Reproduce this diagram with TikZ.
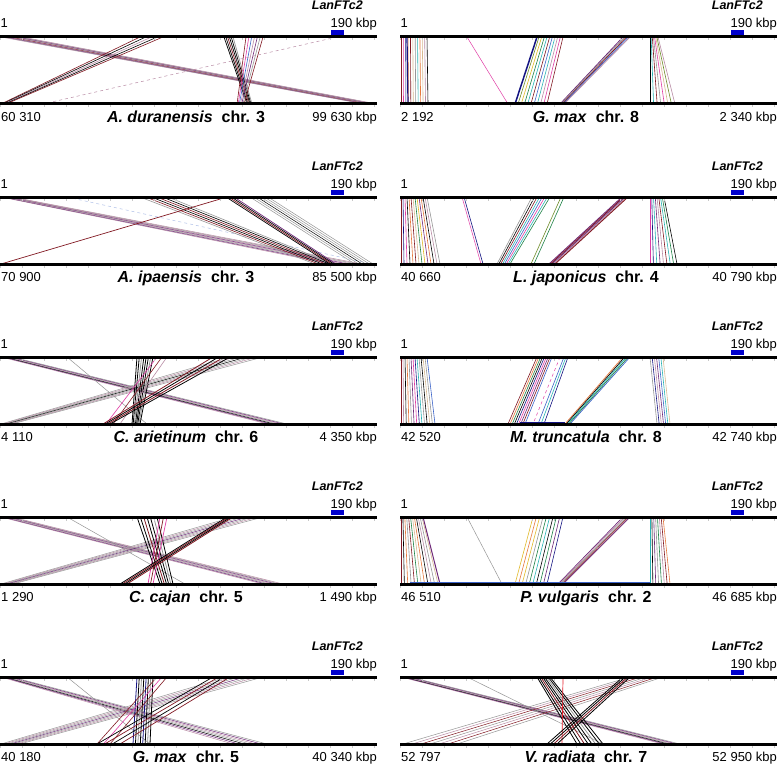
\documentclass[tikz,border=0pt]{standalone}
\usepackage{fontspec}
\setmainfont{Liberation Sans}
\definecolor{cDR}{RGB}{130,25,35}
\definecolor{cPG}{RGB}{185,140,165}
\definecolor{cGL}{RGB}{150,150,150}
\definecolor{cNV}{RGB}{20,20,130}
\definecolor{cMG}{RGB}{225,60,165}
\definecolor{cTL}{RGB}{40,180,180}
\definecolor{cOL}{RGB}{110,140,40}
\definecolor{cYL}{RGB}{225,185,40}
\definecolor{cOR}{RGB}{230,120,60}
\definecolor{cPU}{RGB}{110,40,120}
\definecolor{cGN}{RGB}{30,130,70}
\definecolor{cTN}{RGB}{215,185,145}
\definecolor{cBL}{RGB}{60,100,200}
\definecolor{cRD}{RGB}{230,30,40}
\definecolor{cGB}{RGB}{0,0,205}
\definecolor{cTK}{RGB}{200,200,200}
\tikzset{
  bar/.style={line width=3pt, black},
  tick/.style={cTK, line width=0.5pt},
  numlab/.style={font=\fontsize{13}{14}\selectfont, inner sep=0pt},
  titlab/.style={font=\fontsize{16}{18}\selectfont\bfseries, inner sep=0pt},
  genelab/.style={font=\fontsize{12.5}{14}\selectfont\bfseries\itshape, inner sep=0pt},
  genebox/.style={fill=cGB, draw=none},
}
% bundle: n, top-start, top-end, bottom-start, bottom-end, width, colours
\newcommand\bund[7]{%
  \foreach \bc [count=\bi from 0] in {#7}{%
    \pgfmathsetmacro\bq{(#1>1)?(\bi/(#1-1)):0}%
    \draw[\bc,line width=#6pt] ({#2+\bq*(#3-#2)},0) -- ({#4+\bq*(#5-#4)},67);}}
% frame: name, xoff, yoff, left number, species, chr, right number
\newcommand\pframe[7]{%
  \begin{scope}[shift={(#2,#3)}]
    \foreach \tx in {0,22,...,376}{\draw[tick] (\tx,1.5) -- (\tx,3.5); \draw[tick] (\tx,68.5) -- (\tx,70.5);}
    \coordinate (#1-tl) at (0,0);
    \coordinate (#1-tr) at (377,0);
    \coordinate (#1-bl) at (0,67);
    \coordinate (#1-br) at (377,67);
    \draw[bar] (#1-tl) -- (#1-tr);
    \draw[bar] (#1-bl) -- (#1-br);
    \fill[genebox] (331,-7) rectangle (344,-2.2);
    \node[genelab, anchor=base east] (#1-gene) at (363,-27) {LanFTc2};
    \node[numlab, anchor=base west] (#1-one) at (0.5,-9) {1};
    \node[numlab, anchor=base east] (#1-end) at (377,-9) {190 kbp};
    \node[numlab, anchor=base west] (#1-left) at (1,84.5) {#4};
    \node[numlab, anchor=base east] (#1-right) at (377,84.5) {#7};
    \node[titlab, anchor=base] (#1-title) at (186,85.5) {\textit{#5}\ \ #6};
  \end{scope}}
\begin{document}
\begin{tikzpicture}[x=1pt,y=-1pt]
\useasboundingbox (0,0) rectangle (778,765);
\fill[white] (0,0) rectangle (778,765);

% ---------- Panel 1: A. duranensis ----------
\begin{scope}[shift={(0,37)}]
  \bund{10}{1}{22}{364}{377}{0.5}{cPG,cGL,cPU,cPG,cDR,cGL,cPG,cPU,cGL,cPG}
  \bund{5}{140}{163}{1}{6}{0.6}{cDR,black,cPG,black,cDR}
  \bund{6}{224}{233}{247}{252}{0.7}{black,black,cDR,black,black,cGL}
  \bund{7}{246}{263}{237}{244}{0.6}{cDR,cMG,cBL,cPG,cPU,cGL,cDR}
  \draw[cPG,dashed,line width=0.5pt] (337,0) -- (43,67);
\end{scope}
\pframe{p1}{0}{37}{60 310}{A. duranensis}{chr. 3}{99 630 kbp}

% ---------- Panel 2: G. max chr. 8 ----------
\begin{scope}[shift={(400,37)}]
  \bund{12}{1}{27}{1}{28}{0.6}{cDR,cMG,cNV,cOR,cDR,cTN,cGL,cTL,cOR,cTN,cPG,black}
  \draw[cNV,line width=1.2pt] (7,0) -- (8,67);
  \draw[cMG,line width=0.5pt] (67,0) -- (108,67);
  \bund{10}{139}{163}{118}{147}{0.6}{cOL,cYL,cGN,cTL,cDR,cBL,cTL,cPG,cMG,cDR}
  \draw[cNV,line width=1.5pt] (137,0) -- (115,67);
  \bund{5}{223}{230}{160}{164}{0.8}{cPU,cGL,cDR,cBL,cPG}
  \draw[cNV,line width=1.5pt] (160,65.5) -- (250,65.5);
  \bund{8}{250}{258}{250}{275}{0.6}{black,cTL,cDR,cGL,cMG,cTN,cOL,cPG}
\end{scope}
\pframe{p2}{400}{37}{2 192}{G. max}{chr. 8}{2 340 kbp}

% ---------- Panel 3: A. ipaensis ----------
\begin{scope}[shift={(0,197)}]
  \bund{8}{1}{12}{330}{362}{0.5}{cPG,cPU,cGL,cPG,cPU,cPG,cGL,cPG}
  \draw[cBL!40,dashed,line width=0.5pt] (67,0) -- (372,67);
  \bund{6}{140}{168}{315}{333}{0.6}{cGL,cDR,black,cDR,black,cGL}
  \draw[cDR,line width=0.7pt] (1,67) -- (227,0);
  \bund{4}{226}{234}{330}{336}{0.7}{black,cDR,black,cPU}
  \bund{6}{250}{268}{355}{373}{0.5}{cGL,cGL,black,cGL,cGL,cGL}
\end{scope}
\pframe{p3}{0}{197}{70 900}{A. ipaensis}{chr. 3}{85 500 kbp}

% ---------- Panel 4: L. japonicus ----------
\begin{scope}[shift={(400,197)}]
  \bund{14}{1}{27}{1}{40}{0.6}{cDR,cNV,cMG,black,cOR,cDR,cTN,cGN,cYL,cPU,cOR,black,cPG,cGL}
  \draw[cMG,line width=0.5pt] (62,0) -- (81,67);
  \draw[cNV,line width=0.6pt] (64,0) -- (83,67);
  \bund{8}{132}{150}{97}{110}{0.6}{cGL,black,cDR,cTL,cBL,cMG,cTL,cGN}
  \bund{2}{161}{164}{131}{134}{0.6}{cOL,cGN}
  \bund{5}{222}{228}{149}{155}{0.9}{cPU,cDR,cPU,cPG,cDR}
  \bund{9}{250}{264}{250}{277}{0.6}{cMG,cNV,cTL,cPU,cPG,cDR,cTL,cGN,black}
\end{scope}
\pframe{p4}{400}{197}{40 660}{L. japonicus}{chr. 4}{40 790 kbp}

% ---------- Panel 5: C. arietinum ----------
\begin{scope}[shift={(0,357)}]
  \bund{7}{1}{12}{268}{287}{0.5}{cPG,cPU,black,cGL,cPG,cPU,cGL}
  \draw[cGL,line width=0.5pt] (67,0) -- (147,67);
  \bund{7}{230}{263}{1}{12}{0.5}{cGL,cPG,cGL,black,cGL,cPG,cGL}
  \bund{8}{137}{153}{132}{140}{0.8}{black,black,cGL,black,black,black,cGL,black}
  \bund{3}{157}{167}{106}{120}{0.6}{cMG,cDR,cPG}
  \bund{4}{213}{230}{103}{110}{0.8}{cDR,black,cDR,black}
\end{scope}
\pframe{p5}{0}{357}{4 110}{C. arietinum}{chr. 6}{4 350 kbp}

% ---------- Panel 6: M. truncatula ----------
\begin{scope}[shift={(400,357)}]
  \bund{14}{1}{27}{1}{35}{0.6}{cDR,cPG,black,cOR,cGL,cPU,cMG,cNV,cTL,cGL,black,cTN,cGL,cBL}
  \bund{9}{137}{152}{108}{125}{0.6}{cDR,cOR,cGN,black,cNV,cMG,cPU,cDR,cBL}
  \draw[cMG,dashed,line width=0.5pt] (160,0) -- (133,67);
  \bund{3}{164}{168}{138}{144}{0.6}{cBL,cTL,cNV}
  \draw[cNV,line width=1.2pt] (120,65.5) -- (165,65.5);
  \bund{5}{223}{230}{165}{170}{0.7}{cOR,black,cTL,cGN,cBL}
  \bund{7}{250}{263}{257}{270}{0.6}{cGL,cNV,cPG,cPU,cBL,cTL,cTN}
\end{scope}
\pframe{p6}{400}{357}{42 520}{M. truncatula}{chr. 8}{42 740 kbp}

% ---------- Panel 7: C. cajan ----------
\begin{scope}[shift={(0,517)}]
  \bund{7}{1}{12}{263}{283}{0.5}{cPG,cPU,cGL,cPG,cPU,cGL,cPG}
  \draw[cGL,line width=0.5pt] (67,0) -- (185,67);
  \bund{7}{233}{263}{1}{13}{0.5}{cGL,cPG,cGL,cPU,cGL,cPG,cGL}
  \bund{7}{137}{157}{160}{173}{0.8}{black,black,cDR,black,black,cGL,black}
  \bund{3}{160}{167}{148}{153}{0.7}{cMG,cDR,cMG}
  \bund{4}{227}{233}{120}{127}{0.8}{black,cDR,black,cDR}
\end{scope}
\pframe{p7}{0}{517}{1 290}{C. cajan}{chr. 5}{1 490 kbp}

% ---------- Panel 8: P. vulgaris ----------
\begin{scope}[shift={(400,517)}]
  \bund{12}{1}{22}{1}{38}{0.6}{cDR,black,cOR,cGL,cDR,cGN,cTN,cOR,black,cPG,cGL,cTN}
  \draw[cPU,line width=1pt] (23,0) -- (40,67);
  \draw[cGL,line width=0.5pt] (67,0) -- (102,67);
  \bund{10}{133}{163}{115}{147}{0.6}{cYL,cOR,cYL,cGL,cGN,cTL,black,cGN,cPU,cNV}
  \bund{5}{223}{230}{158}{163}{0.7}{cPU,cPG,cGL,cDR,cPU}
  \bund{8}{250}{263}{250}{270}{0.6}{cTL,black,cPU,cGL,cGN,cPG,cDR,cOR}
  \draw[cBL,line width=0.6pt] (10,65.5) -- (250,65.5);
\end{scope}
\pframe{p8}{400}{517}{46 510}{P. vulgaris}{chr. 2}{46 685 kbp}

% ---------- Panel 9: G. max chr. 5 ----------
\begin{scope}[shift={(0,677)}]
  \bund{7}{1}{12}{233}{267}{0.5}{cPG,cPU,black,cGL,cPG,cPU,cGL}
  \draw[cGL,line width=0.5pt] (67,0) -- (150,67);
  \bund{7}{227}{263}{1}{20}{0.5}{cGL,cPG,cGL,cPU,cGL,cPG,cGL}
  \bund{8}{137}{153}{133}{150}{0.8}{cNV,black,cGL,black,cNV,black,cGL,black}
  \bund{3}{157}{167}{97}{110}{0.6}{cDR,cMG,cDR}
  \bund{4}{213}{230}{97}{120}{0.7}{black,cDR,black,cDR}
\end{scope}
\pframe{p9}{0}{677}{40 180}{G. max}{chr. 5}{40 340 kbp}

% ---------- Panel 10: V. radiata ----------
\begin{scope}[shift={(400,677)}]
  \bund{7}{1}{10}{263}{280}{0.5}{cPG,cPU,black,cGL,cPG,cPU,cGL}
  \draw[cGL,line width=0.5pt] (67,0) -- (203,67);
  \bund{7}{230}{263}{3}{57}{0.5}{cGL,cPG,cDR,cGL,cPG,cDR,cGL}
  \bund{8}{137}{150}{177}{203}{0.8}{black,black,cDR,black,black,cGL,black,black}
  \draw[cRD,line width=0.7pt] (163,0) -- (162,67);
  \bund{4}{223}{230}{147}{157}{0.8}{black,black,cDR,black}
\end{scope}
\pframe{p10}{400}{677}{52 797}{V. radiata}{chr. 7}{52 950 kbp}
\end{tikzpicture}
\end{document}
